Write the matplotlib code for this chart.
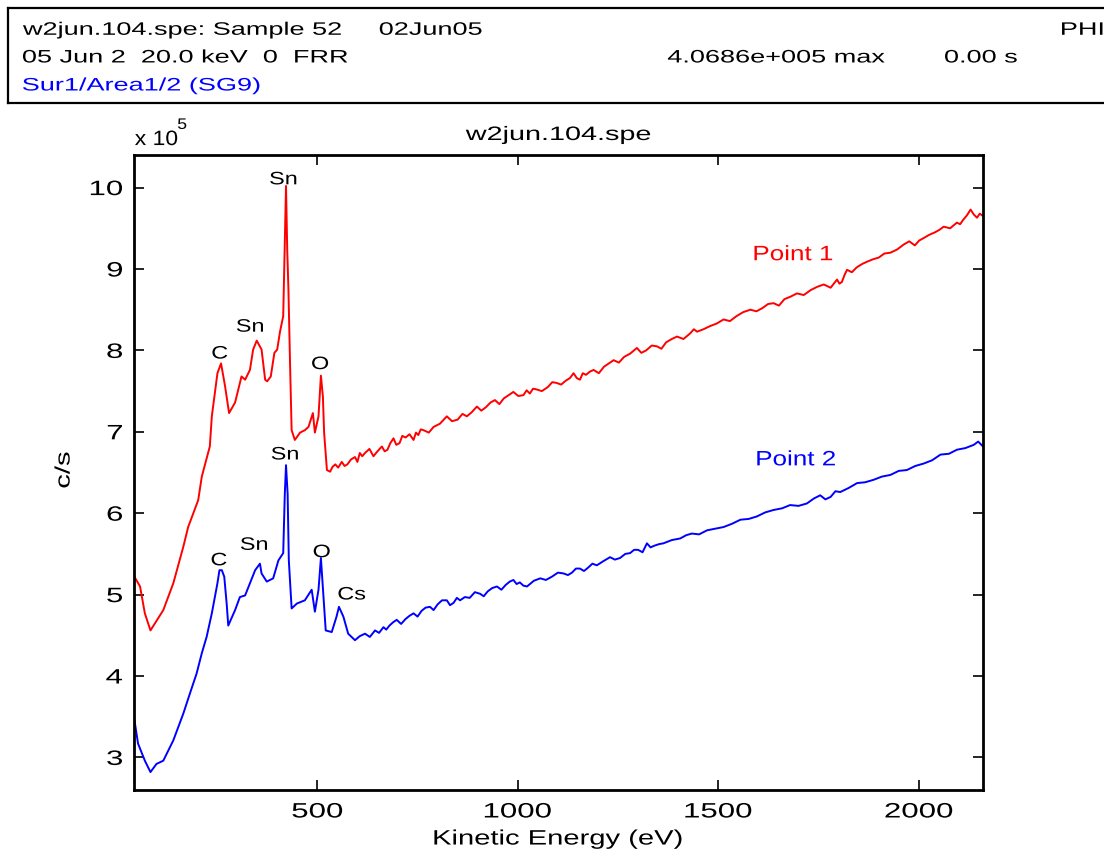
import matplotlib
matplotlib.use("Agg")
import matplotlib.pyplot as plt
from matplotlib.lines import Line2D
from matplotlib.textpath import TextPath
from matplotlib.patches import PathPatch
from matplotlib.font_manager import FontProperties
from matplotlib.transforms import Affine2D, ScaledTranslation

plt.rcParams['font.family'] = ['Liberation Sans', 'DejaVu Sans']

# Point 1 spectrum (kinetic energy in eV, counts in units of 1e5 c/s)
energy_p1 = [44, 58, 70, 84, 116, 141, 166, 178, 203, 212, 232, 237, 251, 260,
             270, 280, 295, 311, 320, 332, 340, 349, 361, 370, 375, 384, 393,
             400, 407, 415, 418, 422, 425, 428, 432, 436, 444, 457, 469, 478,
             489, 494, 503, 509, 514, 517, 524,
             532, 538, 545, 552, 561, 568, 575, 584, 594, 600, 606, 612, 619,
             630, 640, 650, 661, 668, 675, 682, 690, 697, 705, 712, 720, 730,
             740, 746, 752, 758, 765, 778, 790, 806, 823, 836, 850, 862, 873,
             885, 898, 909, 920, 932, 943, 954, 965, 977, 989, 1001, 1014,
             1022, 1030, 1038, 1047, 1060, 1075, 1086, 1097, 1108, 1120, 1130,
             1139, 1147, 1155, 1162, 1170, 1180, 1189, 1202, 1215, 1227, 1239,
             1252, 1265, 1280, 1297, 1308, 1320, 1334, 1347, 1358, 1370, 1384,
             1397, 1413, 1430, 1439, 1447, 1463, 1480, 1496, 1513, 1529, 1545,
             1562, 1580, 1595, 1610, 1624, 1638, 1651, 1665, 1680, 1696, 1713,
             1730, 1746, 1763, 1780, 1796, 1802, 1808, 1815, 1821, 1833, 1845,
             1858, 1871, 1886, 1900, 1914, 1929, 1946, 1962, 1976, 1990, 2001,
             2012, 2026, 2040, 2051, 2062, 2078, 2095, 2103, 2110, 2120, 2129,
             2137, 2145, 2152, 2160]
counts_p1 = [5.22, 5.10, 4.77, 4.56, 4.81, 5.14, 5.59, 5.83, 6.16, 6.45, 6.82,
             7.19, 7.72, 7.84, 7.56, 7.23, 7.36, 7.68, 7.64, 7.76, 8.01, 8.12,
             8.01, 7.64, 7.62, 7.68, 7.97, 8.01, 8.23, 8.42, 9.11, 10.02, 9.24,
             8.75, 7.85, 7.02, 6.90, 6.99, 7.02, 7.06, 7.23, 6.99, 7.19, 7.69,
             7.43, 6.99, 6.53,
             6.51, 6.57, 6.60, 6.56, 6.63, 6.58, 6.60, 6.66, 6.69, 6.63, 6.74,
             6.70, 6.74, 6.79, 6.70, 6.76, 6.82, 6.76, 6.78, 6.86, 6.92, 6.84,
             6.86, 6.95, 6.93, 6.97, 6.90, 6.99, 6.96, 7.03, 7.02, 6.99, 7.06,
             7.10, 7.19, 7.13, 7.15, 7.22, 7.19, 7.24, 7.31, 7.26, 7.30, 7.36,
             7.39, 7.34, 7.41, 7.45, 7.49, 7.44, 7.45, 7.51, 7.47, 7.53, 7.52,
             7.50, 7.55, 7.61, 7.60, 7.58, 7.63, 7.66, 7.72, 7.66, 7.64, 7.72,
             7.70, 7.74, 7.76, 7.72, 7.80, 7.84, 7.88, 7.85, 7.92, 7.96, 8.03,
             7.97, 8.00, 8.06, 8.05, 8.02, 8.10, 8.14, 8.17, 8.14, 8.21, 8.26,
             8.23, 8.26, 8.30, 8.33, 8.38, 8.36, 8.42, 8.47, 8.50, 8.48, 8.52,
             8.57, 8.58, 8.55, 8.63, 8.66, 8.70, 8.68, 8.74, 8.78, 8.81, 8.77,
             8.87, 8.82, 8.84, 8.93, 8.99, 8.96, 9.02, 9.06, 9.09, 9.12, 9.14,
             9.19, 9.20, 9.24, 9.30, 9.34, 9.29, 9.35, 9.38, 9.42, 9.45, 9.48,
             9.52, 9.50, 9.57, 9.55, 9.60, 9.66, 9.73, 9.67, 9.63, 9.68, 9.65]

# Point 2 spectrum
energy_p2 = [44, 53, 70, 84, 99, 116, 141, 166, 182, 199, 212, 224, 237, 251,
             256, 262, 268, 274, 278, 295, 307, 320, 332, 345, 357, 361, 374,
             390, 403, 415, 419, 422, 426, 429, 436, 449, 469, 486, 494, 503,
             509, 515, 521, 536, 548, 554, 565, 577,
             594, 606, 619, 631, 644, 654, 665, 672, 680, 689, 698, 709, 720,
             730, 740, 750, 760, 770, 781, 790, 800, 811, 823, 831, 840, 848,
             856, 868, 880, 893, 906, 915, 925, 936, 948, 959, 970, 980, 989,
             997, 1005, 1014, 1023, 1040, 1056, 1070, 1085, 1100, 1114, 1125,
             1135, 1145, 1155, 1165, 1175, 1186, 1197, 1213, 1230, 1242, 1255,
             1268, 1280, 1290, 1300, 1311, 1322, 1331, 1340, 1352, 1363, 1384,
             1405, 1420, 1434, 1452, 1472, 1493, 1513, 1534, 1555, 1576, 1596,
             1617, 1638, 1659, 1679, 1700, 1721, 1738, 1754, 1767, 1780, 1792,
             1804, 1825, 1846, 1866, 1887, 1908, 1929, 1950, 1970, 1991, 2012,
             2033, 2054, 2075, 2095, 2116, 2137, 2148, 2160]
counts_p2 = [3.46, 3.17, 2.96, 2.82, 2.92, 2.96, 3.21, 3.54, 3.78, 4.03, 4.28,
             4.48, 4.77, 5.14, 5.30, 5.30, 5.22, 4.89, 4.62, 4.81, 4.97, 4.99,
             5.14, 5.30, 5.38, 5.26, 5.16, 5.20, 5.42, 5.51, 6.24, 6.59, 6.24,
             5.42, 4.83, 4.89, 4.93, 5.06, 4.79, 5.06, 5.45, 5.01, 4.56, 4.54,
             4.73, 4.85, 4.73, 4.52,
             4.44, 4.49, 4.52, 4.48, 4.56, 4.53, 4.60, 4.57, 4.62, 4.66, 4.69,
             4.64, 4.70, 4.74, 4.77, 4.73, 4.80, 4.84, 4.85, 4.81, 4.88, 4.93,
             4.93, 4.87, 4.90, 4.96, 4.93, 4.97, 4.96, 5.03, 5.01, 4.98, 5.04,
             5.08, 5.10, 5.06, 5.12, 5.16, 5.18, 5.13, 5.15, 5.11, 5.10, 5.17,
             5.20, 5.18, 5.22, 5.27, 5.26, 5.24, 5.27, 5.32, 5.32, 5.29, 5.33,
             5.38, 5.36, 5.41, 5.46, 5.43, 5.45, 5.50, 5.51, 5.55, 5.55, 5.52,
             5.63, 5.58, 5.60, 5.62, 5.63, 5.67, 5.69, 5.73, 5.75, 5.74, 5.79,
             5.81, 5.83, 5.87, 5.92, 5.93, 5.96, 6.01, 6.04, 6.06, 6.10, 6.09,
             6.12, 6.18, 6.22, 6.17, 6.20, 6.27, 6.26, 6.31, 6.37, 6.38, 6.41,
             6.45, 6.47, 6.52, 6.53, 6.58, 6.61, 6.65, 6.72, 6.73, 6.78, 6.80,
             6.84, 6.88, 6.82]

# peak labels: (text, energy, counts, colour)
peak_labels = [("Sn", 415, 10.12, "black"), ("Sn", 332, 8.31, "black"),
               ("C", 257, 7.98, "black"), ("O", 507, 7.85, "black"),
               ("Sn", 419, 6.74, "black"), ("Sn", 342, 5.63, "black"),
               ("C", 255, 5.44, "black"), ("O", 511, 5.54, "black"),
               ("Cs", 586, 5.02, "black"),
               ("Point 1", 1687, 9.20, "red"), ("Point 2", 1694, 6.68, "blue")]

xticks = [500, 1000, 1500, 2000]
yticks = [3, 4, 5, 6, 7, 8, 9, 10]

fig = plt.figure(figsize=(11.04, 8.57), dpi=100)
font = FontProperties(family="Liberation Sans")


def wide_text(x, y, s, size, base, color="black", ha="center", va="center",
              stretch=1.5, rot=0, dx=0, dy=0):
    # text drawn as a path so it can be widened horizontally
    tp = TextPath((0, 0), s, size=size, prop=font)
    ext = tp.get_extents()
    ox = {"left": ext.x0, "center": (ext.x0 + ext.x1) / 2, "right": ext.x1}[ha]
    oy = {"baseline": 0, "center": 0.36 * size}[va]
    k = fig.dpi / 72
    tr = (Affine2D().translate(-ox, -oy).scale(stretch * k, k)
          .rotate_deg(rot).translate(dx, dy)
          + ScaledTranslation(x, y, base))
    fig.add_artist(PathPatch(tp, transform=tr, facecolor=color, lw=0))


# header block
for (x0, y0, x1, y1) in [(0.0072, 0.9907, 1.0, 0.9907),
                         (0.0072, 0.8798, 1.0, 0.8798),
                         (0.0072, 0.8798, 0.0072, 0.9907)]:
    fig.add_artist(Line2D([x0, x1], [y0, y1], color="black", lw=1.6))

ft = fig.transFigure
wide_text(0.0208, 0.967, "w2jun.104.spe: Sample 52", 13, ft, ha="left")
wide_text(0.344, 0.967, "02Jun05", 13, ft, ha="left")
wide_text(0.962, 0.967, "PHI", 13, ft, ha="left")
wide_text(0.0208, 0.9347, "05 Jun 2  20.0 keV  0  FRR", 13, ft, ha="left")
wide_text(0.605, 0.9347, "4.0686e+005 max", 13, ft, ha="left")
wide_text(0.856, 0.9347, "0.00 s", 13, ft, ha="left")
wide_text(0.0208, 0.902, "Sur1/Area1/2 (SG9)", 13, ft, color="blue", ha="left")

ax = fig.add_axes([0.1214, 0.0782, 0.769, 0.7409])
ax.plot(energy_p1, counts_p1, color="red", lw=1.4)
ax.plot(energy_p2, counts_p2, color="blue", lw=1.4)

ax.set_xlim(43, 2160)
ax.set_ylim(2.6, 10.4)
ax.set_xticks(xticks)
ax.set_yticks(yticks)
ax.tick_params(direction="in", length=7, width=1.2, top=True, right=True,
               labelbottom=False, labelleft=False)
for s in ax.spines.values():
    s.set_linewidth(2)

for txt, ex, cy, col in peak_labels:
    if col == "black":
        wide_text(ex, cy, txt, 13, ax.transData, stretch=1.3)
    else:
        wide_text(ex, cy, txt, 15, ax.transData, color=col, stretch=1.25)

# tick labels
for t in xticks:
    wide_text(t, 0, str(t), 15, ax.get_xaxis_transform(), dy=-20, stretch=1.5)
for t in yticks:
    wide_text(0, t, str(t), 15, ax.get_yaxis_transform(), ha="right",
              dx=-12, stretch=1.5)

wide_text(0.5054, 0.0233, "Kinetic Energy (eV)", 15, ft, stretch=1.4)
wide_text(0.0562, 0.4516, "c/s", 15, ft, stretch=1.4, rot=90)
wide_text(0.5054, 0.8448, "w2jun.104.spe", 14, ft, stretch=1.48)
wide_text(0.1223, 0.8395, "x 10", 15, ft, ha="left", stretch=1.1)
wide_text(0.1612, 0.8560, "5", 11, ft, ha="left", stretch=1.15)

fig.savefig("out.png", dpi=100)
